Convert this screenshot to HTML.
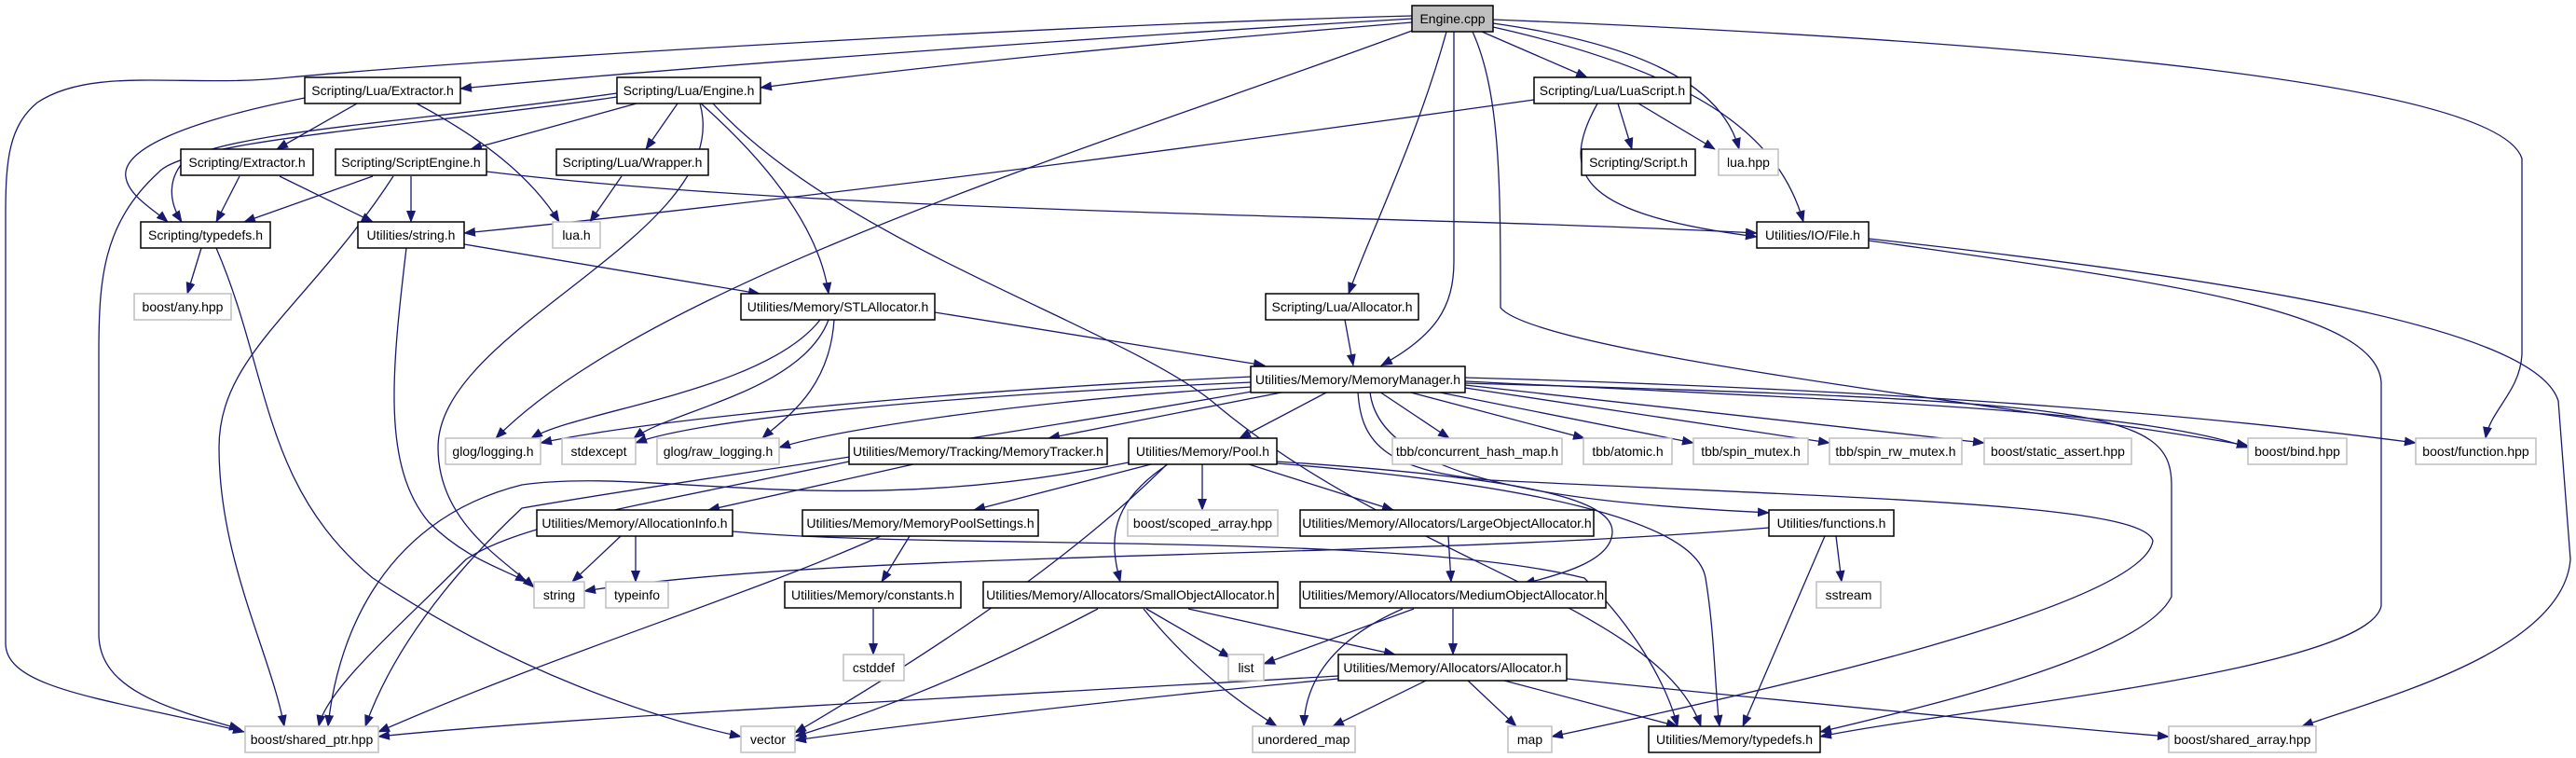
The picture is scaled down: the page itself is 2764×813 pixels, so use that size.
<!DOCTYPE html>
<html><head><meta charset="utf-8"><style>
html,body{margin:0;padding:0;background:#fff;}
svg{display:block;}
text{font-family:"Liberation Sans",sans-serif;font-size:14px;fill:#000;}
.e{fill:none;stroke:#191970;stroke-width:1.3;marker-end:url(#a);}
.b{fill:#fff;stroke:#000;stroke-width:1.5;}
.g{fill:#fff;stroke:#bfbfbf;stroke-width:1.5;}
</style></head><body>
<svg width="2764" height="813" viewBox="0 0 2764 813" xmlns="http://www.w3.org/2000/svg">
<defs><marker id="a" markerUnits="userSpaceOnUse" markerWidth="13" markerHeight="10" refX="12" refY="5" orient="auto"><path d="M0,0 L13,5 L0,10 z" fill="#191970"/></marker></defs>
<g>
<path class="e" d="M1515,20 C1100,45 700,75 494,95"/>
<path class="e" d="M1515,24 C1200,50 1000,70 816,94"/>
<path class="e" d="M1515,17 C1100,28 500,65 310,83 C200,95 100,70 40,110 C10,135 6,170 6,230 L6,690 C6,740 120,750 262,785"/>
<path class="e" d="M1590,34 L1703,83"/>
<path class="e" d="M1602,25 C1780,50 1850,100 1866,160"/>
<path class="e" d="M1602,29 C1830,80 1910,150 1935,238"/>
<path class="e" d="M1602,21 C2200,45 2680,90 2706,170 L2706,380 C2704,420 2672,440 2667,470"/>
<path class="e" d="M1580,34 C1610,100 1610,200 1610,330 C1650,380 2200,440 2412,478"/>
<path class="e" d="M1552,34 C1520,150 1470,250 1447,315"/>
<path class="e" d="M1560,34 L1560,280 C1560,330 1540,360 1482,392"/>
<path class="e" d="M1515,33 C1200,150 700,300 532,470"/>
<path class="e" d="M383,111 L297,160"/>
<path class="e" d="M327,105 C200,130 130,160 135,190 C138,210 165,225 180,238"/>
<path class="e" d="M447,111 C520,150 570,190 600,238"/>
<path class="e" d="M662,100 C450,130 260,140 200,170 C180,190 180,215 195,238"/>
<path class="e" d="M662,104 C450,135 200,150 170,185 C110,240 106,300 106,380 L106,680 C106,740 180,760 258,782"/>
<path class="e" d="M683,111 L505,160"/>
<path class="e" d="M727,111 L693,160"/>
<path class="e" d="M752,111 C830,180 880,250 889,315"/>
<path class="e" d="M751,111 C790,250 470,350 470,480 C470,560 540,600 573,630"/>
<path class="e" d="M765,111 C900,260 1200,350 1300,430 C1500,600 1780,650 1825,779"/>
<path class="e" d="M257,189 L232,238"/>
<path class="e" d="M300,189 L400,238"/>
<path class="e" d="M400,189 L262,238"/>
<path class="e" d="M441,189 L441,238"/>
<path class="e" d="M522,184 C900,230 1500,230 1885,250"/>
<path class="e" d="M422,189 C330,330 235,380 235,480 C235,600 290,700 305,779"/>
<path class="e" d="M667,189 L633,238"/>
<path class="e" d="M1736,111 L1751,160"/>
<path class="e" d="M1758,111 L1840,160"/>
<path class="e" d="M1714,111 C1670,190 1700,230 1885,254"/>
<path class="e" d="M1646,107 C1200,170 800,220 498,250"/>
<path class="e" d="M216,266 L201,315"/>
<path class="e" d="M232,266 C290,400 280,520 400,620 C550,720 700,770 795,790"/>
<path class="e" d="M498,262 L815,315"/>
<path class="e" d="M436,266 C420,400 410,500 460,560 C500,600 540,610 565,624"/>
<path class="e" d="M2005,258 C2300,300 2550,330 2555,410 L2555,650 C2540,720 2100,760 1953,790"/>
<path class="e" d="M2005,256 C2400,300 2720,350 2745,430 L2758,600 C2750,700 2550,750 2470,779"/>
<path class="e" d="M1003,335 L1357,392"/>
<path class="e" d="M880,343 C820,420 620,440 570,470"/>
<path class="e" d="M889,343 C860,420 720,440 680,470"/>
<path class="e" d="M895,343 C890,420 840,450 818,470"/>
<path class="e" d="M1443,343 L1452,392"/>
<path class="e" d="M1343,404 C1000,420 700,450 580,475"/>
<path class="e" d="M1343,410 C1000,425 750,450 682,475"/>
<path class="e" d="M1343,415 C1100,430 900,460 836,480"/>
<path class="e" d="M1380,420 L1125,470"/>
<path class="e" d="M1425,420 L1330,470"/>
<path class="e" d="M1480,420 L1555,470"/>
<path class="e" d="M1510,420 L1700,470"/>
<path class="e" d="M1540,420 L1817,475"/>
<path class="e" d="M1572,416 L1963,475"/>
<path class="e" d="M1572,413 L2129,475"/>
<path class="e" d="M1572,409 C2000,430 2300,440 2412,480"/>
<path class="e" d="M1572,405 C2100,420 2400,450 2592,475"/>
<path class="e" d="M1572,411 C2250,430 2330,440 2330,520 L2330,640 C2300,700 2100,750 1953,785"/>
<path class="e" d="M1343,420 C1000,480 700,520 560,545 C480,620 420,700 392,779"/>
<path class="e" d="M1457,420 C1460,470 1480,505 1600,515 C2000,535 2300,540 2310,580 C2300,650 1900,740 1665,790"/>
<path class="e" d="M1470,420 C1480,520 1700,540 1898,550"/>
<path class="e" d="M911,495 C700,540 560,560 500,600 C420,680 350,740 342,779"/>
<path class="e" d="M980,498 L760,547"/>
<path class="e" d="M1211,496 C900,560 700,500 560,520 C400,560 360,700 352,779"/>
<path class="e" d="M1252,498 C1150,600 1000,700 853,786"/>
<path class="e" d="M1235,498 L1045,547"/>
<path class="e" d="M1290,498 L1290,547"/>
<path class="e" d="M1340,498 L1495,547"/>
<path class="e" d="M1253,498 C1190,540 1190,580 1202,624"/>
<path class="e" d="M1370,495 C1600,510 1730,530 1730,570 C1730,600 1680,615 1635,626"/>
<path class="e" d="M1370,497 C1650,520 1820,560 1830,620 C1840,680 1840,740 1845,779"/>
<path class="e" d="M666,575 L614,624"/>
<path class="e" d="M682,575 L682,624"/>
<path class="e" d="M786,570 C1000,590 1500,570 1700,620 C1760,680 1790,740 1800,779"/>
<path class="e" d="M976,575 L946,624"/>
<path class="e" d="M945,575 C800,640 600,700 406,785"/>
<path class="e" d="M937,653 L937,702"/>
<path class="e" d="M1898,566 C1500,600 900,590 627,634"/>
<path class="e" d="M1970,575 L1976,624"/>
<path class="e" d="M1958,575 L1870,779"/>
<path class="e" d="M1554,575 L1557,624"/>
<path class="e" d="M1230,653 L1320,705"/>
<path class="e" d="M1178,653 C1050,720 950,760 853,790"/>
<path class="e" d="M1227,653 C1280,720 1340,760 1370,779"/>
<path class="e" d="M1275,653 L1497,702"/>
<path class="e" d="M1517,653 L1356,712"/>
<path class="e" d="M1505,653 C1420,690 1400,740 1399,779"/>
<path class="e" d="M1559,653 L1559,702"/>
<path class="e" d="M1436,725 C1000,750 600,770 406,790"/>
<path class="e" d="M1436,728 C1200,750 950,780 853,794"/>
<path class="e" d="M1530,730 L1430,779"/>
<path class="e" d="M1575,730 L1627,779"/>
<path class="e" d="M1614,730 L1800,779"/>
<path class="e" d="M1681,728 C1900,750 2200,780 2327,790"/>
</g>
<g>
<rect x="1515" y="6" width="87" height="28" fill="#bfbfbf" stroke="#000" stroke-width="1.5"/><text x="1558.5" y="25" text-anchor="middle">Engine.cpp</text>
<rect class="b" x="327" y="83" width="167" height="28"/><text x="410.5" y="102" text-anchor="middle">Scripting/Lua/Extractor.h</text>
<rect class="b" x="662" y="83" width="154" height="28"/><text x="739" y="102" text-anchor="middle">Scripting/Lua/Engine.h</text>
<rect class="b" x="1646" y="83" width="168" height="28"/><text x="1730" y="102" text-anchor="middle">Scripting/Lua/LuaScript.h</text>
<rect class="b" x="194" y="160" width="142" height="28"/><text x="265" y="179" text-anchor="middle">Scripting/Extractor.h</text>
<rect class="b" x="360" y="160" width="162" height="28"/><text x="441" y="179" text-anchor="middle">Scripting/ScriptEngine.h</text>
<rect class="b" x="597" y="160" width="163" height="28"/><text x="678.5" y="179" text-anchor="middle">Scripting/Lua/Wrapper.h</text>
<rect class="b" x="1697" y="160" width="122" height="28"/><text x="1758" y="179" text-anchor="middle">Scripting/Script.h</text>
<rect class="g" x="1844" y="160" width="64" height="28"/><text x="1876" y="179" text-anchor="middle">lua.hpp</text>
<rect class="b" x="151" y="238" width="139" height="28"/><text x="220.5" y="257" text-anchor="middle">Scripting/typedefs.h</text>
<rect class="b" x="384" y="238" width="114" height="28"/><text x="441" y="257" text-anchor="middle">Utilities/string.h</text>
<rect class="g" x="593" y="238" width="51" height="28"/><text x="618.5" y="257" text-anchor="middle">lua.h</text>
<rect class="b" x="1885" y="238" width="120" height="28"/><text x="1945" y="257" text-anchor="middle">Utilities/IO/File.h</text>
<rect class="g" x="144" y="315" width="104" height="28"/><text x="196" y="334" text-anchor="middle">boost/any.hpp</text>
<rect class="b" x="795" y="315" width="208" height="28"/><text x="899" y="334" text-anchor="middle">Utilities/Memory/STLAllocator.h</text>
<rect class="b" x="1358" y="315" width="164" height="28"/><text x="1440" y="334" text-anchor="middle">Scripting/Lua/Allocator.h</text>
<rect class="b" x="1342" y="393" width="230" height="28"/><text x="1457" y="412" text-anchor="middle">Utilities/Memory/MemoryManager.h</text>
<rect class="g" x="478" y="470" width="102" height="28"/><text x="529" y="489" text-anchor="middle">glog/logging.h</text>
<rect class="g" x="603" y="470" width="79" height="28"/><text x="642.5" y="489" text-anchor="middle">stdexcept</text>
<rect class="g" x="705" y="470" width="131" height="28"/><text x="770.5" y="489" text-anchor="middle">glog/raw_logging.h</text>
<rect class="b" x="911" y="470" width="277" height="28"/><text x="1049.5" y="489" text-anchor="middle">Utilities/Memory/Tracking/MemoryTracker.h</text>
<rect class="b" x="1211" y="470" width="159" height="28"/><text x="1290.5" y="489" text-anchor="middle">Utilities/Memory/Pool.h</text>
<rect class="g" x="1494" y="470" width="182" height="28"/><text x="1585" y="489" text-anchor="middle">tbb/concurrent_hash_map.h</text>
<rect class="g" x="1699" y="470" width="95" height="28"/><text x="1746.5" y="489" text-anchor="middle">tbb/atomic.h</text>
<rect class="g" x="1817" y="470" width="123" height="28"/><text x="1878.5" y="489" text-anchor="middle">tbb/spin_mutex.h</text>
<rect class="g" x="1963" y="470" width="142" height="28"/><text x="2034" y="489" text-anchor="middle">tbb/spin_rw_mutex.h</text>
<rect class="g" x="2129" y="470" width="158" height="28"/><text x="2208" y="489" text-anchor="middle">boost/static_assert.hpp</text>
<rect class="g" x="2412" y="470" width="106" height="28"/><text x="2465" y="489" text-anchor="middle">boost/bind.hpp</text>
<rect class="g" x="2592" y="470" width="129" height="28"/><text x="2656.5" y="489" text-anchor="middle">boost/function.hpp</text>
<rect class="b" x="576" y="547" width="210" height="28"/><text x="681" y="566" text-anchor="middle">Utilities/Memory/AllocationInfo.h</text>
<rect class="b" x="861" y="547" width="253" height="28"/><text x="987.5" y="566" text-anchor="middle">Utilities/Memory/MemoryPoolSettings.h</text>
<rect class="g" x="1210" y="547" width="161" height="28"/><text x="1290.5" y="566" text-anchor="middle">boost/scoped_array.hpp</text>
<rect class="b" x="1395" y="547" width="315" height="28"/><text x="1552.5" y="566" text-anchor="middle">Utilities/Memory/Allocators/LargeObjectAllocator.h</text>
<rect class="b" x="1898" y="547" width="134" height="28"/><text x="1965" y="566" text-anchor="middle">Utilities/functions.h</text>
<rect class="g" x="573" y="624" width="54" height="28"/><text x="600" y="643" text-anchor="middle">string</text>
<rect class="g" x="650" y="624" width="67" height="28"/><text x="683.5" y="643" text-anchor="middle">typeinfo</text>
<rect class="b" x="842" y="624" width="189" height="28"/><text x="936.5" y="643" text-anchor="middle">Utilities/Memory/constants.h</text>
<rect class="b" x="1055" y="624" width="316" height="28"/><text x="1213" y="643" text-anchor="middle">Utilities/Memory/Allocators/SmallObjectAllocator.h</text>
<rect class="b" x="1395" y="624" width="328" height="28"/><text x="1559" y="643" text-anchor="middle">Utilities/Memory/Allocators/MediumObjectAllocator.h</text>
<rect class="g" x="1949" y="624" width="69" height="28"/><text x="1983.5" y="643" text-anchor="middle">sstream</text>
<rect class="g" x="905" y="702" width="65" height="28"/><text x="937.5" y="721" text-anchor="middle">cstddef</text>
<rect class="g" x="1318" y="702" width="38" height="28"/><text x="1337" y="721" text-anchor="middle">list</text>
<rect class="b" x="1436" y="702" width="245" height="28"/><text x="1558.5" y="721" text-anchor="middle">Utilities/Memory/Allocators/Allocator.h</text>
<rect class="g" x="263" y="779" width="143" height="28"/><text x="334.5" y="798" text-anchor="middle">boost/shared_ptr.hpp</text>
<rect class="g" x="795" y="779" width="58" height="28"/><text x="824" y="798" text-anchor="middle">vector</text>
<rect class="g" x="1344" y="779" width="110" height="28"/><text x="1399" y="798" text-anchor="middle">unordered_map</text>
<rect class="g" x="1618" y="779" width="47" height="28"/><text x="1641.5" y="798" text-anchor="middle">map</text>
<rect class="b" x="1769" y="779" width="184" height="28"/><text x="1861" y="798" text-anchor="middle">Utilities/Memory/typedefs.h</text>
<rect class="g" x="2327" y="779" width="158" height="28"/><text x="2406" y="798" text-anchor="middle">boost/shared_array.hpp</text>
</g>
</svg>
</body></html>
